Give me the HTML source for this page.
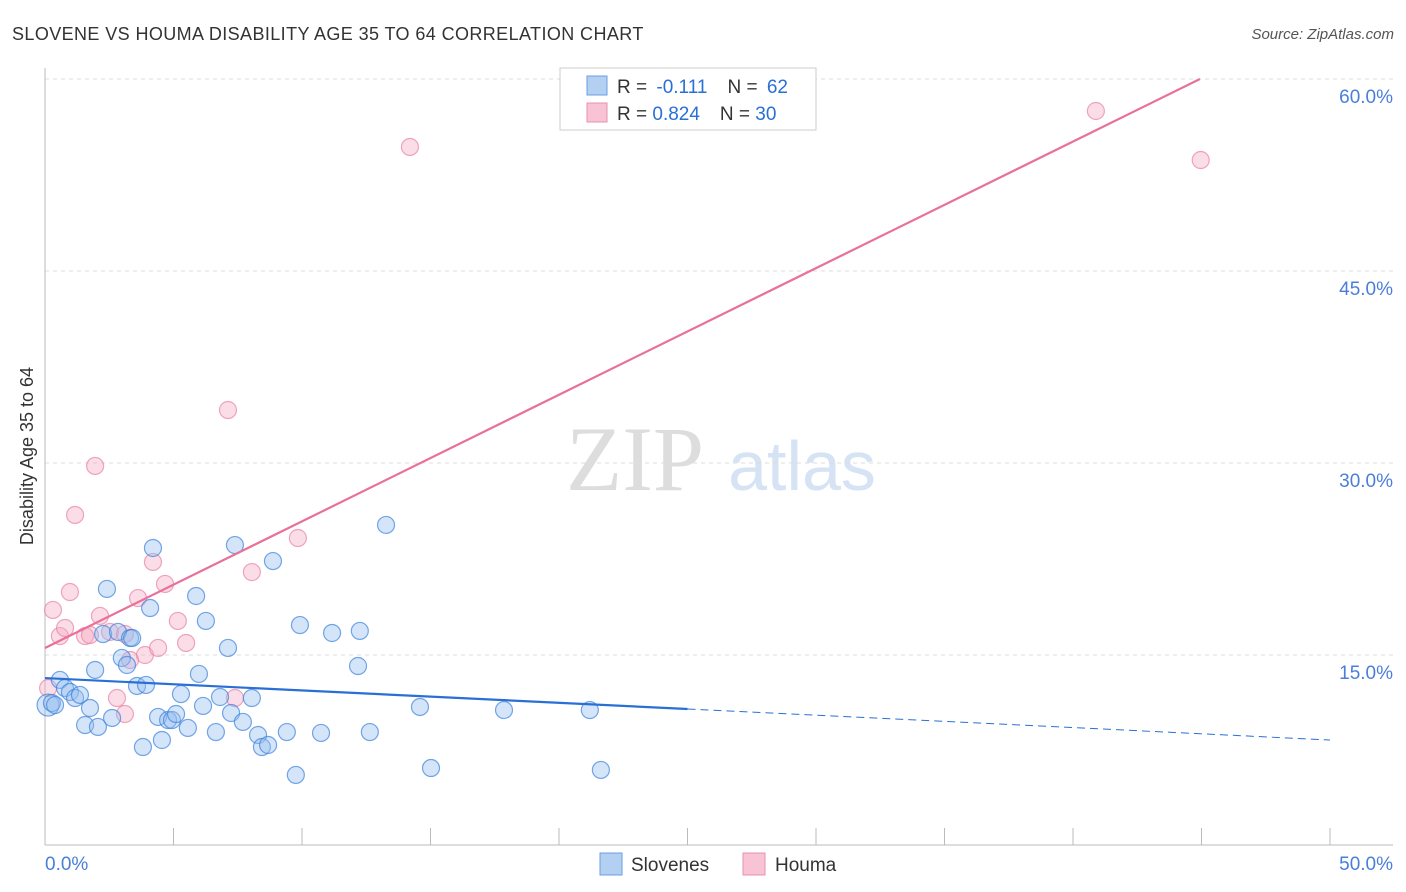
<!DOCTYPE html>
<html><head><meta charset="utf-8"><style>
body{margin:0;background:#fff;font-family:"Liberation Sans",sans-serif;}
svg{display:block}
</style></head><body>
<svg id="chart" width="1406" height="892" xmlns="http://www.w3.org/2000/svg">
<text x="12" y="40" font-size="18" fill="#333" letter-spacing="0.4">SLOVENE VS HOUMA DISABILITY AGE 35 TO 64 CORRELATION CHART</text>
<text x="1394" y="39" font-size="15" fill="#555" font-style="italic" text-anchor="end">Source: ZipAtlas.com</text>
<text x="33" y="456" font-size="18" fill="#333" text-anchor="middle" transform="rotate(-90 33 456)">Disability Age 35 to 64</text>
<g><text x="635" y="490" font-size="92" fill="#ddd" font-family="Liberation Serif,serif" text-anchor="middle">ZIP</text><text x="802" y="490" font-size="70" fill="#d5e3f5" text-anchor="middle">atlas</text></g>
<g id="grid"></g><g id="axes"></g><g id="marks"></g>
<g>
<rect x="560" y="68" width="256" height="62" fill="#fff" stroke="#ccc"/>
<rect x="587" y="76" width="20" height="19" fill="#b3cff2" stroke="#6a9fe0"/>
<rect x="587" y="103" width="20" height="19" fill="#f8c4d5" stroke="#e890ac"/>
<text x="617" y="93" font-size="19" fill="#333">R = <tspan fill="#2a6fd6" dx="4">-0.111</tspan><tspan dx="20">N = </tspan><tspan fill="#2a6fd6" dx="4">62</tspan></text>
<text x="617" y="120" font-size="19" fill="#333">R = <tspan fill="#2a6fd6">0.824</tspan><tspan dx="20">N = </tspan><tspan fill="#2a6fd6">30</tspan></text>
</g>
<g>
<rect x="600" y="853" width="22" height="22" fill="#b3cff2" stroke="#6a9fe0"/>
<text x="631" y="871" font-size="19" fill="#333">Slovenes</text>
<rect x="743" y="853" width="22" height="22" fill="#f8c4d5" stroke="#e890ac"/>
<text x="775" y="871" font-size="19" fill="#333">Houma</text>
</g>
</svg>
<script>
const yTicks=[15,30,45,60];
const yTickLabels=["15.0%","30.0%","45.0%","60.0%"];
const blueX=[0.12,0.27,0.39,0.58,0.78,0.97,1.17,1.36,1.75,1.56,1.95,2.06,2.26,2.41,2.61,2.84,2.99,3.19,3.31,3.39,3.58,3.81,3.93,4.09,4.20,4.40,4.55,4.79,4.94,5.10,5.29,5.56,5.88,5.99,6.15,6.26,6.65,6.81,7.12,7.24,7.39,7.70,8.05,8.29,8.44,8.68,8.87,9.41,9.76,9.92,10.74,11.17,12.18,12.25,12.64,13.27,14.59,15.02,17.86,21.20,21.63];
const blueY=[11.09,11.25,11.09,13.05,12.42,12.11,11.64,11.88,10.86,9.53,13.83,9.38,16.64,20.16,10.08,16.80,14.77,14.22,16.33,16.33,12.58,7.81,12.66,18.67,23.36,10.16,8.36,9.92,9.92,10.39,11.95,9.30,19.61,13.52,11.02,17.66,8.98,11.72,15.55,10.47,23.59,9.77,11.64,8.75,7.81,7.97,22.34,8.98,5.63,17.34,8.91,16.72,14.14,16.88,8.98,25.16,10.94,6.17,10.70,10.70,6.02];
const pinkX=[0.12,0.31,0.58,0.78,0.97,1.17,1.56,1.75,1.95,2.14,2.53,2.80,3.11,3.31,3.11,3.62,3.89,4.20,4.40,4.67,5.17,5.49,7.12,7.39,8.05,9.84,14.20,40.89,44.97];
const pinkY=[12.42,18.52,16.48,17.11,19.92,25.94,16.48,16.56,29.77,18.05,16.80,11.64,10.39,14.61,16.64,19.45,15.0,22.27,15.55,20.55,17.66,15.94,34.14,11.64,21.48,24.14,54.69,57.5,53.67];
const blueTrend=[13.2,8.36];
const pinkTrend=[15.55,60.0];
const pinkTrendEnd=44.94;
const blueSolidEnd=25;

const X=v=>45+v/50*1285;
const Y=v=>847-v/15*192;
const NS="http://www.w3.org/2000/svg";
function mk(tag,attrs,parent){const e=document.createElementNS(NS,tag);for(const k in attrs)e.setAttribute(k,attrs[k]);parent.appendChild(e);return e;}
const grid=document.getElementById('grid'),axes=document.getElementById('axes'),marks=document.getElementById('marks');
yTicks.forEach((t,i)=>{
 const l=mk('line',{x1:45,x2:1393,y1:Y(t),y2:Y(t),stroke:'#ddd','stroke-dasharray':'4,4'},grid);
 
 
 const tx=mk('text',{x:1393,y:Y(t)+24,'font-size':19,fill:'#4a7fd8','text-anchor':'end'},axes);
 tx.textContent=yTickLabels[i];
 
 
});
const ya=mk('line',{x1:45,x2:45,y1:68,y2:845,stroke:'#bbb'},axes);


const xa=mk('line',{x1:45,x2:1393,y1:845,y2:845,stroke:'#bbb'},axes);


for(let i=0;i<=10;i++){const t=mk('line',{x1:X(i*5),x2:X(i*5),y1:828,y2:845,stroke:'#bbb'},axes);
 
 }
const x0=mk('text',{x:45,y:870,'font-size':19,fill:'#4a7fd8'},axes);x0.textContent='0.0%';


const x1=mk('text',{x:1393,y:870,'font-size':19,fill:'#4a7fd8','text-anchor':'end'},axes);x1.textContent='50.0%';


pinkX.forEach((v,i)=>{const c=mk('circle',{cx:X(v),cy:Y(pinkY[i]),r:8.5,fill:'rgba(245,170,195,0.4)',stroke:'rgba(232,130,165,0.7)','stroke-width':1.2},marks);
 
 });
blueX.forEach((v,i)=>{const c=mk('circle',{cx:X(v),cy:Y(blueY[i]),r:i==0?11:8.5,fill:'rgba(150,190,240,0.4)',stroke:'rgba(60,130,220,0.7)','stroke-width':1.2},marks);
 
 });
const bAt=x=>blueTrend[0]+(blueTrend[1]-blueTrend[0])*x/50;
const bl=mk('line',{x1:X(0),y1:Y(bAt(0)),x2:X(blueSolidEnd),y2:Y(bAt(blueSolidEnd)),stroke:'#2a6fd6','stroke-width':2.2},marks);


const bd=mk('line',{x1:X(blueSolidEnd),y1:Y(bAt(blueSolidEnd)),x2:X(50),y2:Y(bAt(50)),stroke:'#2a6fd6','stroke-width':1,'stroke-dasharray':'8,5'},marks);


const pl=mk('line',{x1:X(0),y1:Y(pinkTrend[0]),x2:X(pinkTrendEnd),y2:Y(pinkTrend[1]),stroke:'#e8709a','stroke-width':2.2},marks);


</script>
</body></html>
